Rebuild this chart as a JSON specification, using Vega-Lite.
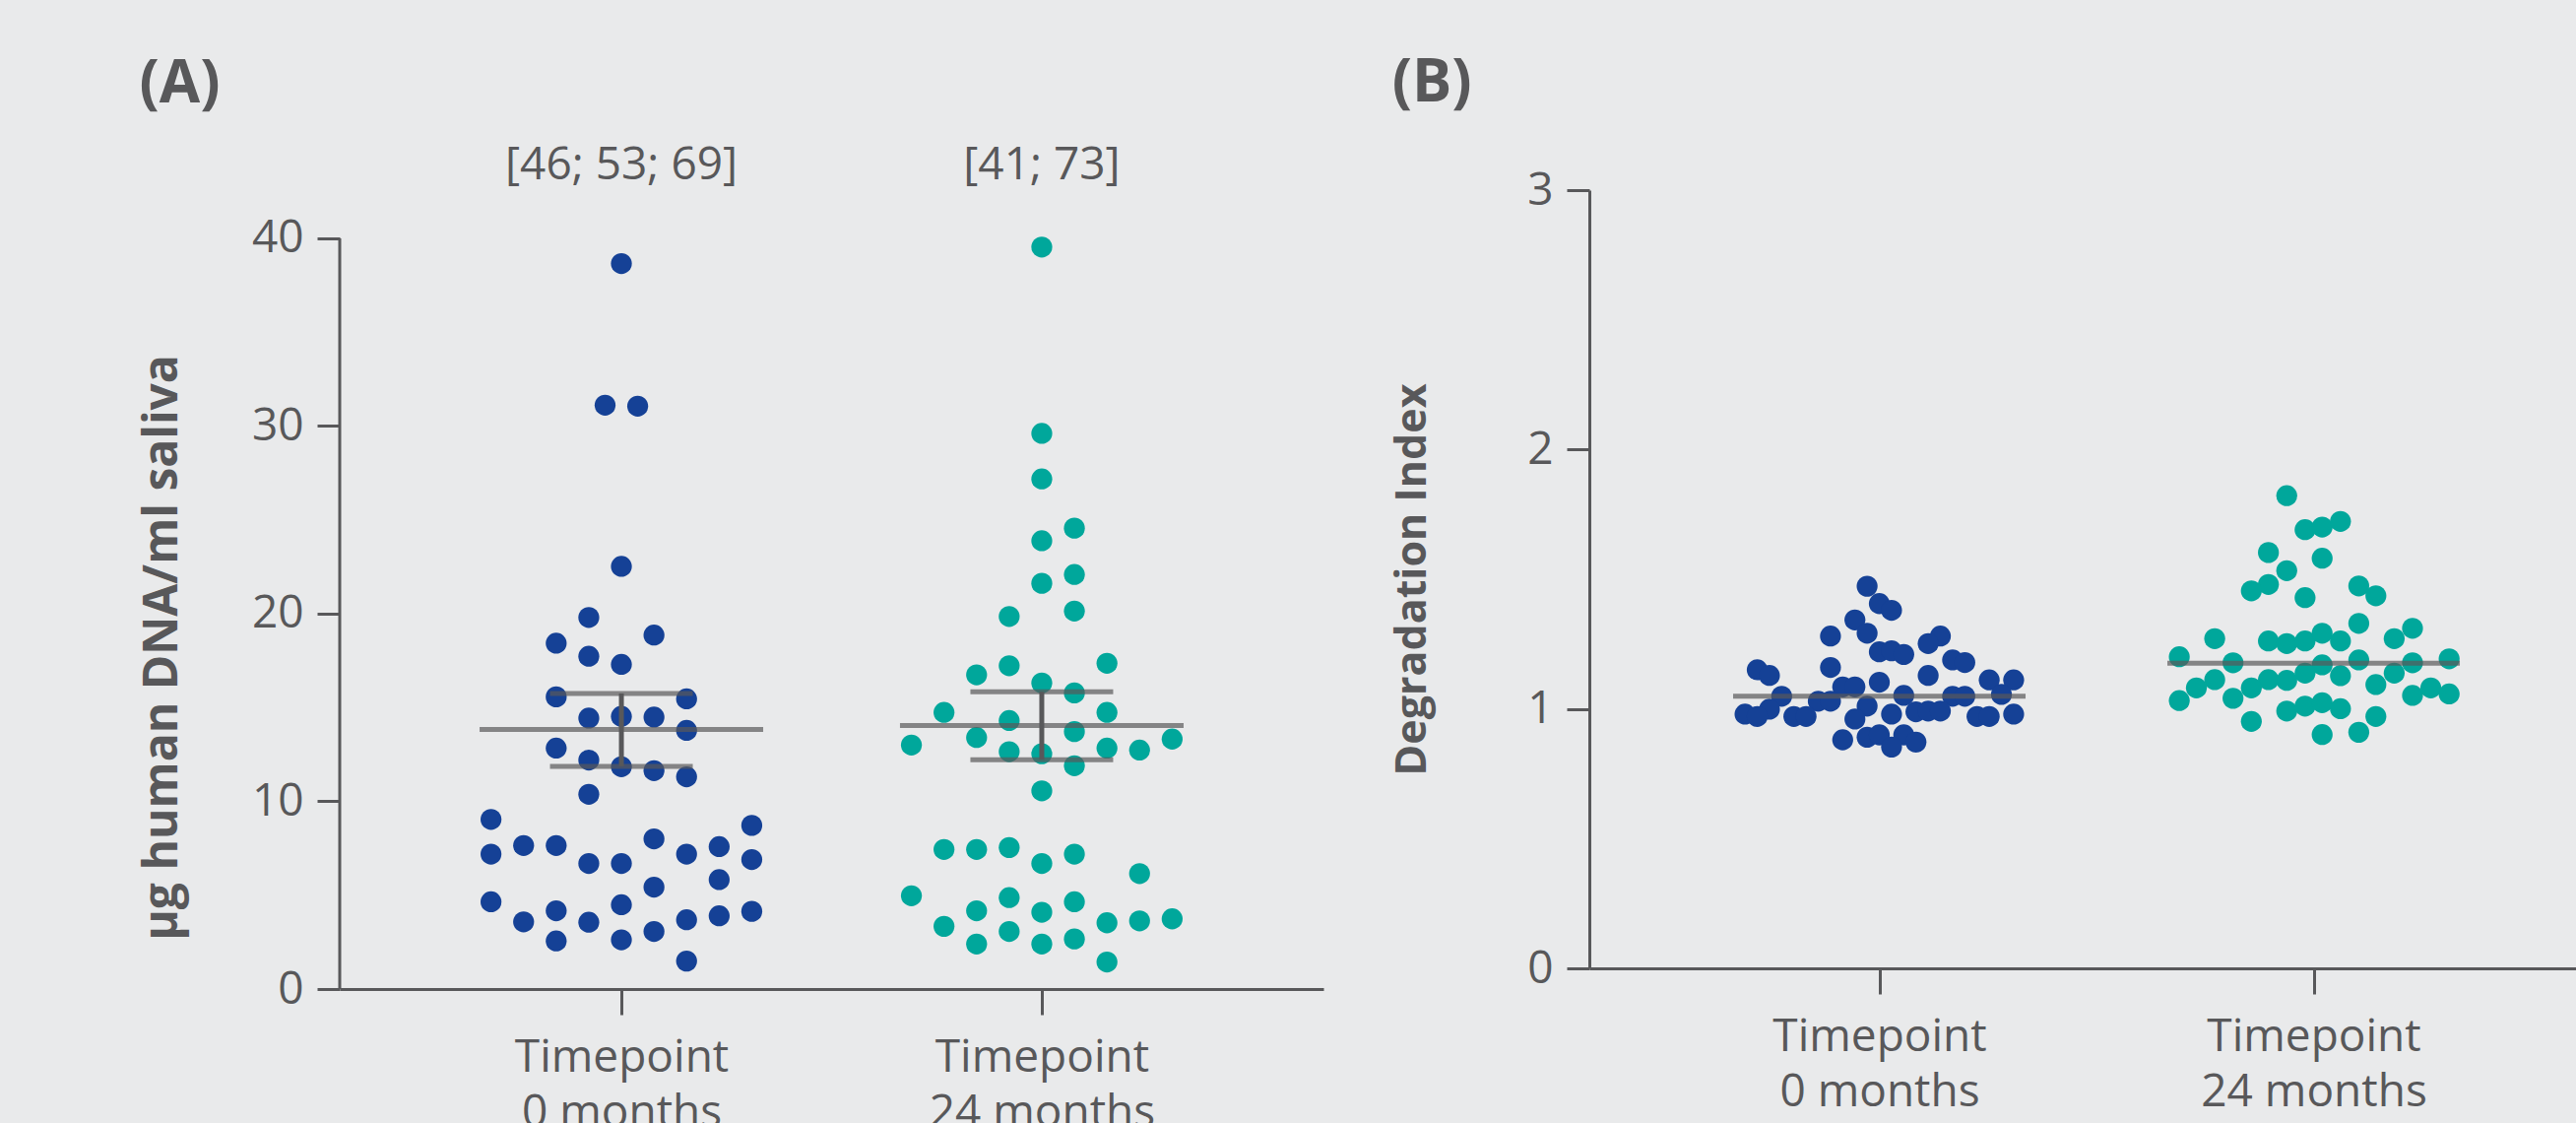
{
  "$schema": "https://vega.github.io/schema/vega-lite/v6.json",
  "background": "#e9eaeb",
  "padding": {"left": 141, "top": 55, "right": 0, "bottom": 0},
  "spacing": 69,
  "resolve": {"scale": {"xOffset": "independent", "x": "independent", "y": "independent", "color": "shared"}},
  "config": {
    "view": {"stroke": null},
    "font": "Open Sans",
    "axis": {
      "domainColor": "#58585a", "domainWidth": 3, "tickColor": "#58585a", "tickWidth": 3,
      "labelFont": "Open Sans", "labelFontSize": 46, "labelColor": "#58585a",
      "titleFont": "Open Sans", "titleFontWeight": "bold", "titleFontSize": 44, "titleColor": "#58585a",
      "grid": false, "labelLimit": 600
    },
    "axisY": {"tickSize": 23, "labelPadding": 14},
    "axisX": {"tickSize": 26, "labelPadding": 21, "labelLineHeight": 56},
    "title": {"font": "Open Sans", "fontWeight": "bold", "fontSize": 60, "color": "#58585a", "anchor": "start", "frame": "bounds"}
  },
  "datasets": {
    "dnaPts": [
      {"group": "0 months", "jitter": 0, "value": 38.66}, {"group": "0 months", "jitter": -0.5, "value": 31.11}, {"group": "0 months", "jitter": 0.5, "value": 31.06},
      {"group": "0 months", "jitter": 0, "value": 22.52}, {"group": "0 months", "jitter": -1, "value": 19.80}, {"group": "0 months", "jitter": -2, "value": 18.43},
      {"group": "0 months", "jitter": 1, "value": 18.86}, {"group": "0 months", "jitter": -1, "value": 17.73}, {"group": "0 months", "jitter": 0, "value": 17.30},
      {"group": "0 months", "jitter": -2, "value": 15.57}, {"group": "0 months", "jitter": 2, "value": 15.46}, {"group": "0 months", "jitter": -1, "value": 14.44},
      {"group": "0 months", "jitter": 0, "value": 14.53}, {"group": "0 months", "jitter": 1, "value": 14.49}, {"group": "0 months", "jitter": 2, "value": 13.78},
      {"group": "0 months", "jitter": -2, "value": 12.84}, {"group": "0 months", "jitter": -1, "value": 12.20}, {"group": "0 months", "jitter": 0, "value": 11.85},
      {"group": "0 months", "jitter": 1, "value": 11.64}, {"group": "0 months", "jitter": 2, "value": 11.31}, {"group": "0 months", "jitter": -1, "value": 10.38},
      {"group": "0 months", "jitter": -4, "value": 9.04}, {"group": "0 months", "jitter": 4, "value": 8.72}, {"group": "0 months", "jitter": 1, "value": 8.00},
      {"group": "0 months", "jitter": -3, "value": 7.65}, {"group": "0 months", "jitter": -2, "value": 7.65}, {"group": "0 months", "jitter": 3, "value": 7.59},
      {"group": "0 months", "jitter": -4, "value": 7.19}, {"group": "0 months", "jitter": 2, "value": 7.19}, {"group": "0 months", "jitter": 4, "value": 6.90},
      {"group": "0 months", "jitter": -1, "value": 6.69}, {"group": "0 months", "jitter": 0, "value": 6.69}, {"group": "0 months", "jitter": 3, "value": 5.83},
      {"group": "0 months", "jitter": 1, "value": 5.43}, {"group": "0 months", "jitter": -4, "value": 4.65}, {"group": "0 months", "jitter": 0, "value": 4.49},
      {"group": "0 months", "jitter": -2, "value": 4.17}, {"group": "0 months", "jitter": 4, "value": 4.14}, {"group": "0 months", "jitter": 3, "value": 3.90},
      {"group": "0 months", "jitter": 2, "value": 3.69}, {"group": "0 months", "jitter": -3, "value": 3.58}, {"group": "0 months", "jitter": -1, "value": 3.56},
      {"group": "0 months", "jitter": 1, "value": 3.07}, {"group": "0 months", "jitter": -2, "value": 2.56}, {"group": "0 months", "jitter": 0, "value": 2.62},
      {"group": "0 months", "jitter": 2, "value": 1.49},
      {"group": "24 months", "jitter": 0, "value": 39.54}, {"group": "24 months", "jitter": 0, "value": 29.61}, {"group": "24 months", "jitter": 0, "value": 27.18},
      {"group": "24 months", "jitter": 1, "value": 24.56}, {"group": "24 months", "jitter": 0, "value": 23.89}, {"group": "24 months", "jitter": 1, "value": 22.09},
      {"group": "24 months", "jitter": 0, "value": 21.62}, {"group": "24 months", "jitter": 1, "value": 20.14}, {"group": "24 months", "jitter": -1, "value": 19.85},
      {"group": "24 months", "jitter": 2, "value": 17.36}, {"group": "24 months", "jitter": -1, "value": 17.23}, {"group": "24 months", "jitter": -2, "value": 16.74},
      {"group": "24 months", "jitter": 0, "value": 16.31}, {"group": "24 months", "jitter": 1, "value": 15.78}, {"group": "24 months", "jitter": -3, "value": 14.74},
      {"group": "24 months", "jitter": 2, "value": 14.74}, {"group": "24 months", "jitter": -1, "value": 14.31}, {"group": "24 months", "jitter": 1, "value": 13.72},
      {"group": "24 months", "jitter": -4, "value": 13.00}, {"group": "24 months", "jitter": -2, "value": 13.40}, {"group": "24 months", "jitter": 4, "value": 13.32},
      {"group": "24 months", "jitter": 2, "value": 12.84}, {"group": "24 months", "jitter": 3, "value": 12.73}, {"group": "24 months", "jitter": -1, "value": 12.65},
      {"group": "24 months", "jitter": 0, "value": 12.54}, {"group": "24 months", "jitter": 1, "value": 11.90}, {"group": "24 months", "jitter": 0, "value": 10.56},
      {"group": "24 months", "jitter": -3, "value": 7.44}, {"group": "24 months", "jitter": -2, "value": 7.44}, {"group": "24 months", "jitter": -1, "value": 7.54},
      {"group": "24 months", "jitter": 1, "value": 7.19}, {"group": "24 months", "jitter": 0, "value": 6.69}, {"group": "24 months", "jitter": 3, "value": 6.15},
      {"group": "24 months", "jitter": -4, "value": 4.97}, {"group": "24 months", "jitter": -1, "value": 4.87}, {"group": "24 months", "jitter": 1, "value": 4.65},
      {"group": "24 months", "jitter": -2, "value": 4.17}, {"group": "24 months", "jitter": 0, "value": 4.09}, {"group": "24 months", "jitter": -3, "value": 3.34},
      {"group": "24 months", "jitter": 2, "value": 3.53}, {"group": "24 months", "jitter": 3, "value": 3.63}, {"group": "24 months", "jitter": 4, "value": 3.74},
      {"group": "24 months", "jitter": -1, "value": 3.07}, {"group": "24 months", "jitter": -2, "value": 2.40}, {"group": "24 months", "jitter": 0, "value": 2.40},
      {"group": "24 months", "jitter": 1, "value": 2.67}, {"group": "24 months", "jitter": 2, "value": 1.44}
    ],
    "dnaStats": [
      {"group": "0 months", "mean": 13.83, "lo": 11.87, "hi": 15.75, "note": "[46; 53; 69]"},
      {"group": "24 months", "mean": 14.04, "lo": 12.22, "hi": 15.84, "note": "[41; 73]"}
    ],
    "degPts": [
      {"group": "0 months", "jitter": -2, "value": 1.343}, {"group": "0 months", "jitter": -1, "value": 1.292}, {"group": "0 months", "jitter": -4, "value": 1.281},
      {"group": "0 months", "jitter": 5, "value": 1.281}, {"group": "0 months", "jitter": 4, "value": 1.252}, {"group": "0 months", "jitter": 0, "value": 1.220},
      {"group": "0 months", "jitter": 1, "value": 1.224}, {"group": "0 months", "jitter": 2, "value": 1.210}, {"group": "0 months", "jitter": 6, "value": 1.189},
      {"group": "0 months", "jitter": 7, "value": 1.179}, {"group": "0 months", "jitter": -10, "value": 1.151}, {"group": "0 months", "jitter": -9, "value": 1.129},
      {"group": "0 months", "jitter": -4, "value": 1.160}, {"group": "0 months", "jitter": 4, "value": 1.129}, {"group": "0 months", "jitter": 9, "value": 1.112},
      {"group": "0 months", "jitter": 11, "value": 1.112}, {"group": "0 months", "jitter": 0, "value": 1.103}, {"group": "0 months", "jitter": -3, "value": 1.085},
      {"group": "0 months", "jitter": -2, "value": 1.085}, {"group": "0 months", "jitter": -8, "value": 1.049}, {"group": "0 months", "jitter": 2, "value": 1.052},
      {"group": "0 months", "jitter": -5, "value": 1.030}, {"group": "0 months", "jitter": -4, "value": 1.030}, {"group": "0 months", "jitter": 6, "value": 1.049},
      {"group": "0 months", "jitter": 7, "value": 1.049}, {"group": "0 months", "jitter": 10, "value": 1.056}, {"group": "0 months", "jitter": -1, "value": 1.011},
      {"group": "0 months", "jitter": -9, "value": 0.999}, {"group": "0 months", "jitter": -11, "value": 0.980}, {"group": "0 months", "jitter": -10, "value": 0.971},
      {"group": "0 months", "jitter": -7, "value": 0.971}, {"group": "0 months", "jitter": -6, "value": 0.971}, {"group": "0 months", "jitter": 1, "value": 0.980},
      {"group": "0 months", "jitter": 3, "value": 0.989}, {"group": "0 months", "jitter": 4, "value": 0.992}, {"group": "0 months", "jitter": 5, "value": 0.992},
      {"group": "0 months", "jitter": 8, "value": 0.971}, {"group": "0 months", "jitter": 9, "value": 0.971}, {"group": "0 months", "jitter": 11, "value": 0.980},
      {"group": "0 months", "jitter": -2, "value": 0.961}, {"group": "0 months", "jitter": -3, "value": 0.881}, {"group": "0 months", "jitter": -1, "value": 0.891},
      {"group": "0 months", "jitter": 0, "value": 0.900}, {"group": "0 months", "jitter": 2, "value": 0.900}, {"group": "0 months", "jitter": 1, "value": 0.853},
      {"group": "0 months", "jitter": 3, "value": 0.872}, {"group": "0 months", "jitter": -1, "value": 1.473}, {"group": "0 months", "jitter": 0, "value": 1.406},
      {"group": "0 months", "jitter": 1, "value": 1.380},
      {"group": "24 months", "jitter": -2.2, "value": 1.822}, {"group": "24 months", "jitter": -0.7, "value": 1.691}, {"group": "24 months", "jitter": 0.7, "value": 1.701},
      {"group": "24 months", "jitter": 2.2, "value": 1.723}, {"group": "24 months", "jitter": -3.7, "value": 1.603}, {"group": "24 months", "jitter": 0.7, "value": 1.581},
      {"group": "24 months", "jitter": -2.2, "value": 1.533}, {"group": "24 months", "jitter": -3.7, "value": 1.480}, {"group": "24 months", "jitter": -5.1, "value": 1.455},
      {"group": "24 months", "jitter": 3.7, "value": 1.474}, {"group": "24 months", "jitter": 5.1, "value": 1.436}, {"group": "24 months", "jitter": -0.7, "value": 1.429},
      {"group": "24 months", "jitter": 3.7, "value": 1.330}, {"group": "24 months", "jitter": -8.1, "value": 1.271}, {"group": "24 months", "jitter": 8.1, "value": 1.311},
      {"group": "24 months", "jitter": 6.6, "value": 1.271}, {"group": "24 months", "jitter": -3.7, "value": 1.262}, {"group": "24 months", "jitter": -2.2, "value": 1.252},
      {"group": "24 months", "jitter": -0.7, "value": 1.262}, {"group": "24 months", "jitter": 0.7, "value": 1.292}, {"group": "24 months", "jitter": 2.2, "value": 1.262},
      {"group": "24 months", "jitter": -11.0, "value": 1.201}, {"group": "24 months", "jitter": -6.6, "value": 1.178}, {"group": "24 months", "jitter": 0.7, "value": 1.170},
      {"group": "24 months", "jitter": 3.7, "value": 1.189}, {"group": "24 months", "jitter": 8.1, "value": 1.178}, {"group": "24 months", "jitter": 11.1, "value": 1.193},
      {"group": "24 months", "jitter": -8.1, "value": 1.113}, {"group": "24 months", "jitter": -9.6, "value": 1.081}, {"group": "24 months", "jitter": -11.0, "value": 1.032},
      {"group": "24 months", "jitter": -3.7, "value": 1.113}, {"group": "24 months", "jitter": -2.2, "value": 1.110}, {"group": "24 months", "jitter": -0.7, "value": 1.138},
      {"group": "24 months", "jitter": 2.2, "value": 1.128}, {"group": "24 months", "jitter": -5.1, "value": 1.081}, {"group": "24 months", "jitter": -6.6, "value": 1.041},
      {"group": "24 months", "jitter": 6.6, "value": 1.138}, {"group": "24 months", "jitter": 5.1, "value": 1.094}, {"group": "24 months", "jitter": 8.1, "value": 1.052},
      {"group": "24 months", "jitter": 9.6, "value": 1.081}, {"group": "24 months", "jitter": -2.2, "value": 0.992}, {"group": "24 months", "jitter": -0.7, "value": 1.011},
      {"group": "24 months", "jitter": 0.7, "value": 1.024}, {"group": "24 months", "jitter": 2.2, "value": 1.001}, {"group": "24 months", "jitter": 5.1, "value": 0.971},
      {"group": "24 months", "jitter": -5.1, "value": 0.952}, {"group": "24 months", "jitter": 0.7, "value": 0.901}, {"group": "24 months", "jitter": 3.7, "value": 0.910},
      {"group": "24 months", "jitter": 11.1, "value": 1.058}
    ],
    "degStats": [
      {"group": "0 months", "mean": 1.049},
      {"group": "24 months", "mean": 1.176}
    ]
  },
  "hconcat": [
    {
      "width": 999,
      "height": 811,
      "title": {"text": "(A)", "offset": 28},
      "resolve": {"scale": {"x": "independent"}},
      "layer": [
        {
          "data": {"name": "dnaPts"},
          "mark": {"type": "circle", "size": 452, "opacity": 1},
          "encoding": {
            "x": {"field": "group", "type": "nominal",
                  "scale": {"type": "point", "padding": 0.67, "domain": ["0 months", "24 months"]},
                  "axis": {"title": null, "labelAngle": 0, "labelExpr": "['Timepoint', datum.label]"}},
            "xOffset": {"field": "jitter", "type": "quantitative", "scale": {"domain": [-4, 4], "range": [-132.4, 132.4]}},
            "y": {"field": "value", "type": "quantitative", "title": "µg human DNA/ml saliva",
                  "scale": {"domain": [0, 42.572], "nice": false},
                  "axis": {"values": [0, 10, 20, 30, 40], "domain": false, "titlePadding": 66, "titleFontSize": 48, "titleY": 464}},
            "color": {"field": "group", "type": "nominal", "scale": {"domain": ["0 months", "24 months"], "range": ["#154196", "#00a79b"]}, "legend": null}
          }
        },
        {
          "data": {"values": [{}]},
          "mark": {"type": "rule", "strokeWidth": 3, "color": "#58585a"},
          "encoding": {
            "x": {"datum": 0, "type": "quantitative", "scale": {"domain": [0, 1]}, "axis": null},
            "y": {"datum": 0, "type": "quantitative", "title": "µg human DNA/ml saliva"},
            "y2": {"datum": 40}
          }
        },
        {
          "data": {"name": "dnaStats"},
          "mark": {"type": "tick", "orient": "horizontal", "size": 288, "thickness": 5, "color": "#58585a"},
          "encoding": {
            "x": {"field": "group", "type": "nominal", "scale": {"type": "point", "padding": 0.67, "domain": ["0 months", "24 months"]}, "axis": null},
            "y": {"field": "mean", "type": "quantitative", "title": "µg human DNA/ml saliva"}
          }
        },
        {
          "data": {"name": "dnaStats"},
          "mark": {"type": "tick", "orient": "horizontal", "size": 145, "thickness": 5, "color": "#58585a"},
          "encoding": {
            "x": {"field": "group", "type": "nominal", "scale": {"type": "point", "padding": 0.67, "domain": ["0 months", "24 months"]}, "axis": null},
            "y": {"field": "lo", "type": "quantitative", "title": "µg human DNA/ml saliva"}
          }
        },
        {
          "data": {"name": "dnaStats"},
          "mark": {"type": "tick", "orient": "horizontal", "size": 145, "thickness": 5, "color": "#58585a"},
          "encoding": {
            "x": {"field": "group", "type": "nominal", "scale": {"type": "point", "padding": 0.67, "domain": ["0 months", "24 months"]}, "axis": null},
            "y": {"field": "hi", "type": "quantitative", "title": "µg human DNA/ml saliva"}
          }
        },
        {
          "data": {"name": "dnaStats"},
          "mark": {"type": "rule", "strokeWidth": 5, "color": "#58585a"},
          "encoding": {
            "x": {"field": "group", "type": "nominal", "scale": {"type": "point", "padding": 0.67, "domain": ["0 months", "24 months"]}, "axis": null},
            "y": {"field": "lo", "type": "quantitative", "title": "µg human DNA/ml saliva"},
            "y2": {"field": "hi"}
          }
        },
        {
          "data": {"name": "dnaStats"},
          "mark": {"type": "text", "fontSize": 46, "font": "Open Sans", "color": "#58585a", "baseline": "middle"},
          "encoding": {
            "x": {"field": "group", "type": "nominal", "scale": {"type": "point", "padding": 0.67, "domain": ["0 months", "24 months"]}, "axis": null},
            "y": {"datum": 43.9, "type": "quantitative"},
            "text": {"field": "note"}
          }
        }
      ]
    },
    {
      "width": 1002,
      "height": 790,
      "title": {"text": "(B)", "offset": 54},
      "layer": [
        {
          "data": {"name": "degPts"},
          "mark": {"type": "circle", "size": 452, "opacity": 1},
          "encoding": {
            "x": {"field": "group", "type": "nominal", "sort": ["0 months", "24 months"],
                  "scale": {"type": "point", "padding": 0.636, "align": 0.525},
                  "axis": {"title": null, "labelAngle": 0, "labelExpr": "['Timepoint', datum.label]"}},
            "xOffset": {"field": "jitter", "type": "quantitative", "scale": {"domain": [-11, 11], "range": [-136.4, 136.4]}},
            "y": {"field": "value", "type": "quantitative", "title": "Degradation Index",
                  "scale": {"domain": [0, 3]}, "axis": {"values": [0, 1, 2, 3], "format": "d", "titlePadding": 94, "titleFontSize": 43}},
            "color": {"field": "group", "type": "nominal", "scale": {"domain": ["0 months", "24 months"], "range": ["#154196", "#00a79b"]}, "legend": null}
          }
        },
        {
          "data": {"name": "degStats"},
          "mark": {"type": "tick", "orient": "horizontal", "size": 297, "thickness": 5, "color": "#58585a"},
          "encoding": {
            "x": {"field": "group", "type": "nominal", "sort": ["0 months", "24 months"]},
            "y": {"field": "mean", "type": "quantitative", "title": "Degradation Index"}
          }
        }
      ]
    }
  ]
}
